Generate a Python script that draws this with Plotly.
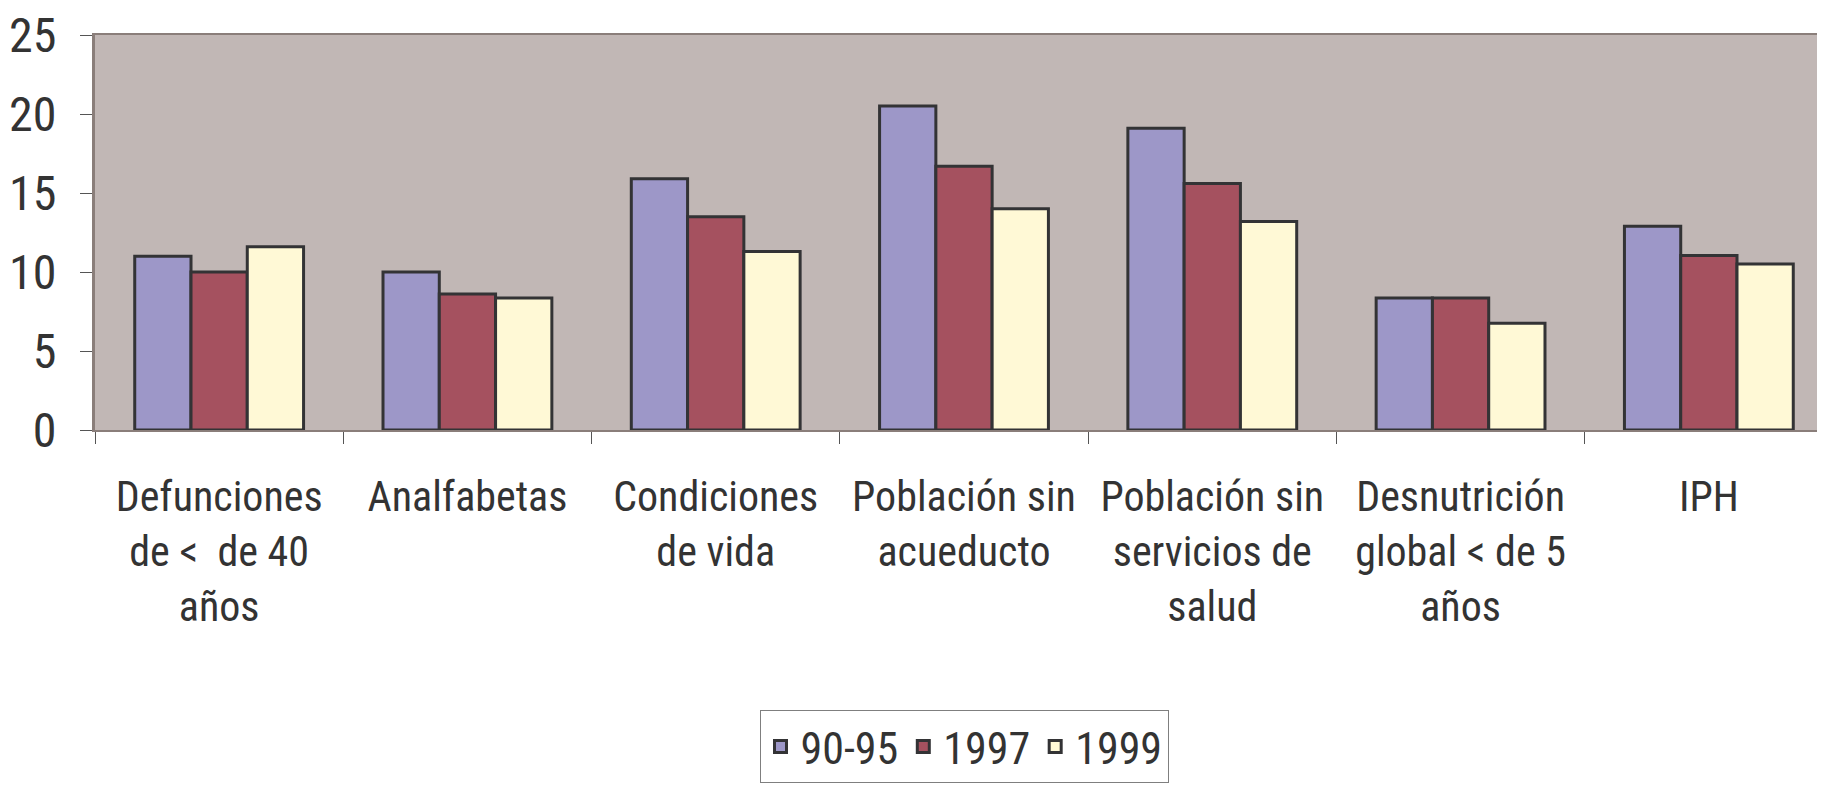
"""Indicadores de pobreza humana: comparación 90-95, 1997 y 1999."""

from __future__ import annotations

import plotly.graph_objects as go

# Datos.
CATEGORIAS = [
    "Defunciones<br>de &lt;  de 40<br>años",
    "Analfabetas",
    "Condiciones<br>de vida",
    "Población sin<br>acueducto",
    "Población sin<br>servicios de<br>salud",
    "Desnutrición<br>global &lt; de 5<br>años",
    "IPH",
]
SERIES = ["90-95", "1997", "1999"]
VALORES_90_95 = [11.0, 10.0, 15.9, 20.5, 19.1, 8.35, 12.9]
VALORES_1997 = [10.0, 8.6, 13.5, 16.7, 15.6, 8.35, 11.05]
VALORES_1999 = [11.6, 8.35, 11.3, 14.0, 13.2, 6.75, 10.5]
Y_TICKS = [0, 5, 10, 15, 20, 25]

# Paleta.
_COLORES = ["#9D97C8", "#A5515F", "#FFF9D6"]
_BORDE_BARRA = "#333335"
_FONDO_PLOT = "#C1B7B5"
_LINEA_EJE = "#8A7E7A"
_TEXTO = "#333333"
_FUENTE = "Roboto Condensed, Liberation Sans Narrow, sans-serif"


def plot_indicadores() -> go.Figure:
    fig = go.Figure()
    for nombre, valores, color in zip(
        SERIES, [VALORES_90_95, VALORES_1997, VALORES_1999], _COLORES
    ):
        fig.add_trace(
            go.Bar(
                x=CATEGORIAS,
                y=valores,
                name=nombre,
                marker=dict(color=color, line=dict(color=_BORDE_BARRA, width=3)),
            )
        )

    # La página añade 8 px de margen al body: se compensa en los márgenes.
    fig.update_layout(
        width=1825,
        height=793,
        barmode="group",
        bargap=0.32,
        bargroupgap=0,
        paper_bgcolor="white",
        plot_bgcolor=_FONDO_PLOT,
        margin=dict(l=87, r=0, t=27, b=371),
        font=dict(family=_FUENTE, size=42, color=_TEXTO),
        legend=dict(
            orientation="h",
            x=0.5,
            xanchor="center",
            y=-0.71,
            yanchor="top",
            bordercolor="#7F7F7F",
            borderwidth=1,
            font=dict(size=44),
            itemwidth=30,
            traceorder="normal",
        ),
    )
    fig.update_xaxes(
        type="category",
        range=[-0.5, 6.5],
        showline=True,
        linecolor=_LINEA_EJE,
        linewidth=2,
        mirror=True,
        ticks="outside",
        tickson="boundaries",
        ticklen=12,
        tickcolor="#555555",
        tickangle=0,
        ticklabelstandoff=29,
        showgrid=False,
    )
    fig.update_yaxes(
        range=[0, 25],
        tickvals=Y_TICKS,
        showline=True,
        linecolor=_LINEA_EJE,
        linewidth=3,
        ticks="outside",
        ticklen=12,
        tickcolor="#555555",
        ticklabelstandoff=14,
        ticklabeloverflow="allow",
        showgrid=False,
        zeroline=False,
        tickfont=dict(size=48),
    )
    return fig


fig = plot_indicadores()
fig.write_html("out.html")
